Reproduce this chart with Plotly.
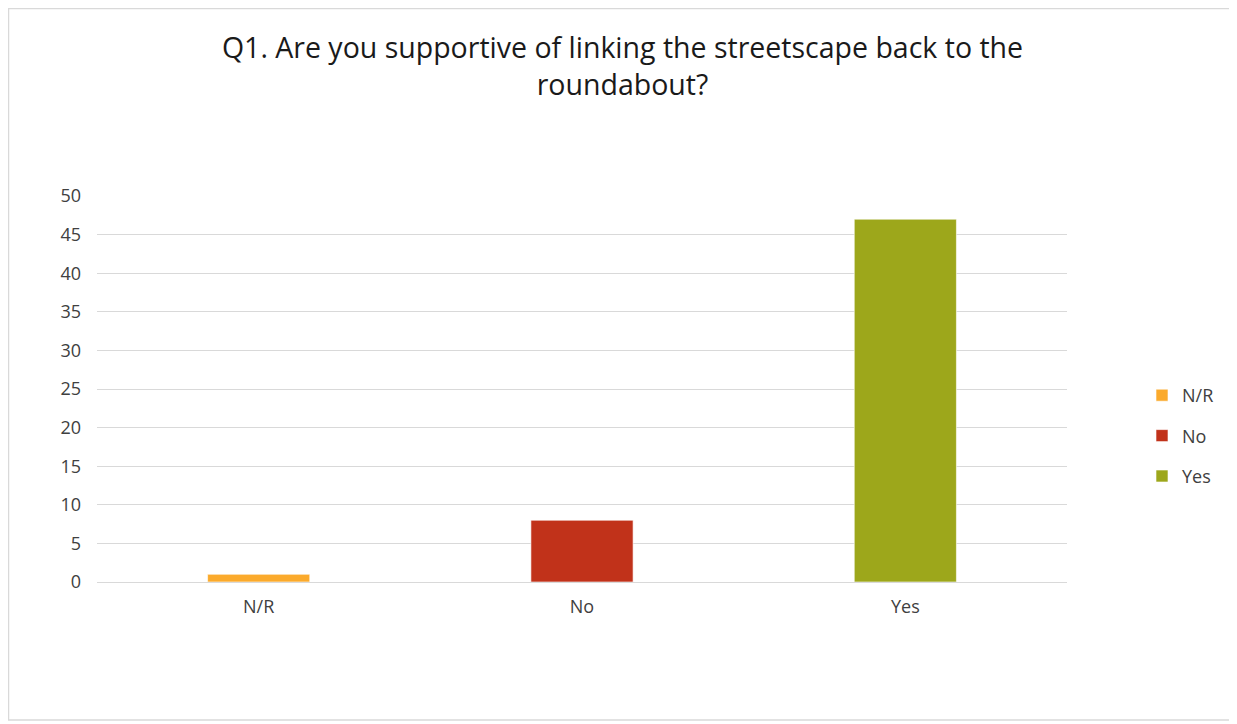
import plotly.graph_objects as go

categories = ["N/R", "No", "Yes"]
values = [1, 8, 47]
colors = ["#FBAA2C", "#C1321A", "#9DA71B"]
y_ticks = [0, 5, 10, 15, 20, 25, 30, 35, 40, 45, 50]

fig = go.Figure()
for cat, val, col in zip(categories, values, colors):
    fig.add_trace(go.Bar(
        x=[cat], y=[val], name=cat, legendgroup=cat,
        marker=dict(color=col, line=dict(color="rgba(255,255,255,0.6)", width=1)),
        width=0.316,
    ))

W, H = 1229, 716
L, R, T, B = 89, 170, 188, 142
PW, PH = W - L - R, H - T - B

font_family = "Open Sans, Liberation Sans, sans-serif"
fig.update_layout(
    width=W, height=H,
    barmode="overlay",
    paper_bgcolor="white", plot_bgcolor="white",
    margin=dict(l=L, r=R, t=T, b=B),
    title=dict(
        text="Q1. Are you supportive of linking the streetscape back to the<br>roundabout?",
        x=0.5, xref="container", xanchor="center",
        y=1 - 50 / H, yref="container", yanchor="middle",
        font=dict(family=font_family, size=28.5, color="#1a1a1a"),
    ),
    xaxis=dict(
        categoryorder="array", categoryarray=categories,
        showgrid=False, showline=False, ticks="",
        tickfont=dict(family=font_family, size=18, color="#404040"),
        ticklabelstandoff=12,
    ),
    yaxis=dict(
        range=[0, 50], tickvals=y_ticks,
        showgrid=True, gridcolor="#d9d9d9", gridwidth=1,
        zeroline=True, zerolinecolor="#d9d9d9", zerolinewidth=1,
        showline=False, ticks="",
        tickfont=dict(family=font_family, size=18, color="#404040"),
        ticklabelstandoff=15,
    ),
    legend=dict(
        x=(1134 - L) / PW, xanchor="left", y=(574 - 428) / PH, yanchor="middle",
        font=dict(family=font_family, size=18, color="#404040"),
        tracegroupgap=14, itemwidth=30,
    ),
    shapes=[dict(
        type="rect", xref="paper", yref="paper",
        x0=(0.5 - L) / PW, x1=(1224 - L) / PW,
        y0=(PH + T - 712) / PH, y1=(PH + T - 0.5) / PH,
        line=dict(color="#d9d9d9", width=1.5), layer="below",
    )],
)

fig.write_html("out.html")
